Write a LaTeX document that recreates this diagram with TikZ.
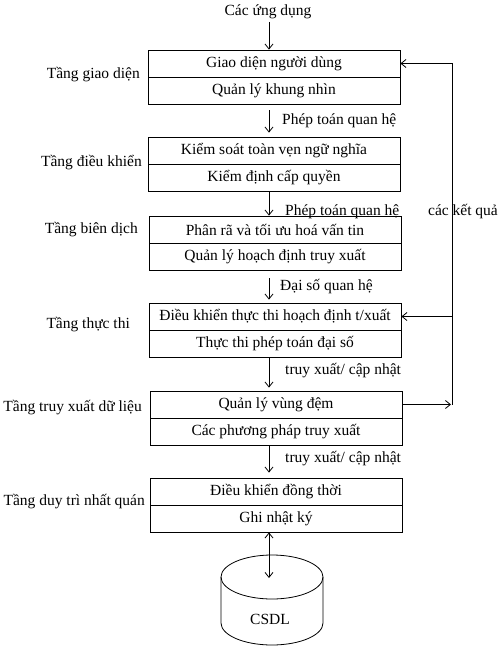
\documentclass[tikz,border=0pt]{standalone}
\usepackage{fontspec}
\setmainfont{Liberation Serif}
\usetikzlibrary{arrows.meta}
\begin{document}
\begin{tikzpicture}[x=1pt,y=-1pt,
  txt/.style={font=\fontsize{15.5}{18}\selectfont, inner sep=0pt},
  row/.style={draw, line width=0.8pt, minimum width=252pt, minimum height=27pt, inner sep=0pt, font=\fontsize{15.5}{18}\selectfont},
  arr/.style={line width=0.8pt, -{Straight Barb[length=5pt,width=8pt]}},
  darr/.style={line width=0.8pt, {Straight Barb[length=5pt,width=8pt]}-{Straight Barb[length=5pt,width=8pt]}},
  ln/.style={line width=0.8pt}]
\useasboundingbox (0,0) rectangle (501,650);

% boxes
\node[row] (b1a) at (274,63.5) {Giao diện người dùng};
\node[row] (b1b) at (274,90.5) {Quản lý khung nhìn};
\node[row] (b2a) at (274,150.5) {Kiểm soát toàn vẹn ngữ nghĩa};
\node[row] (b2b) at (274,177.5) {Kiểm định cấp quyền};
\node[row] (b3a) at (275,229.5) {Phân rã và tối ưu hoá vấn tin};
\node[row] (b3b) at (275,256.5) {Quản lý hoạch định truy xuất};
\node[row] (b4a) at (275,316.5) {Điều khiển thực thi hoạch định t/xuất};
\node[row] (b4b) at (275,343.5) {Thực thi phép toán đại số};
\node[row] (b5a) at (276,404.5) {Quản lý vùng đệm};
\node[row] (b5b) at (276,431.5) {Các phương pháp truy xuất};
\node[row] (b6a) at (276,491.5) {Điều khiển đồng thời};
\node[row] (b6b) at (276,518.5) {Ghi nhật ký};

% left labels
\node[txt, anchor=east] (l1) at (140,75) {Tầng giao diện};
\node[txt, anchor=east] (l2) at (142,163) {Tầng điều khiển};
\node[txt, anchor=east] (l3) at (138,230) {Tầng biên dịch};
\node[txt, anchor=east] (l4) at (130,325) {Tầng thực thi};
\node[txt, anchor=east] (l5) at (142,408) {Tầng truy xuất dữ liệu};
\node[txt, anchor=east] (l6) at (145,502) {Tầng duy trì nhất quán};

% arrow labels
\node[txt] (apps) at (268,12) {Các ứng dụng};
\node[txt, anchor=west] (t1) at (282,121) {Phép toán quan hệ};
\node[txt, anchor=west] (t2) at (285,212) {Phép toán quan hệ};
\node[txt, anchor=west] (t3) at (280,287) {Đại số quan hệ};
\node[txt, anchor=west] (t4) at (285,371) {truy xuất/ cập nhật};
\node[txt, anchor=west] (t5) at (285,459) {truy xuất/ cập nhật};
\node[txt] (res) at (463,212) {các kết quả};

% vertical arrows
\coordinate (c0) at (269,22);
\draw[arr] (c0) -- ([xshift=-5pt]b1a.north);
\draw[arr, shorten <=6pt, shorten >=4pt] ([xshift=-5pt]b1b.south) -- ([xshift=-5pt]b2a.north);
\draw[arr] ([xshift=-5pt]b2b.south) -- ([xshift=-6pt]b3a.north);
\draw[arr, shorten <=8pt, shorten >=3pt] ([xshift=-6pt]b3b.south) -- ([xshift=-6pt]b4a.north);
\draw[arr, shorten >=3pt] ([xshift=-6pt]b4b.south) -- ([xshift=-7pt]b5a.north);
\draw[arr, shorten >=5pt] ([xshift=-7pt]b5b.south) -- ([xshift=-7pt]b6a.north);

% feedback
\coordinate (fbT) at (452,63.5);
\coordinate (fbM) at (452,316.5);
\coordinate (fbB) at (452,404.5);
\draw[arr, shorten >=1pt] (b5a.east) -- (fbB);
\draw[ln] (fbB) -- (fbT);
\draw[arr] (fbT) -- (b1a.east);
\draw[arr] (fbM) -- (b4a.east);

% database
\draw[ln] (272,577) ellipse [x radius=51pt, y radius=22pt];
\draw[ln] (221,577) -- (221,623) arc[start angle=180, end angle=360, x radius=51pt, y radius=22pt] -- (323,577);
\node[txt] (db) at (270,619) {CSDL};
\coordinate (dbtop) at (269,578);
\draw[darr] ([xshift=-7pt]b6b.south) -- (dbtop);
\end{tikzpicture}
\end{document}
